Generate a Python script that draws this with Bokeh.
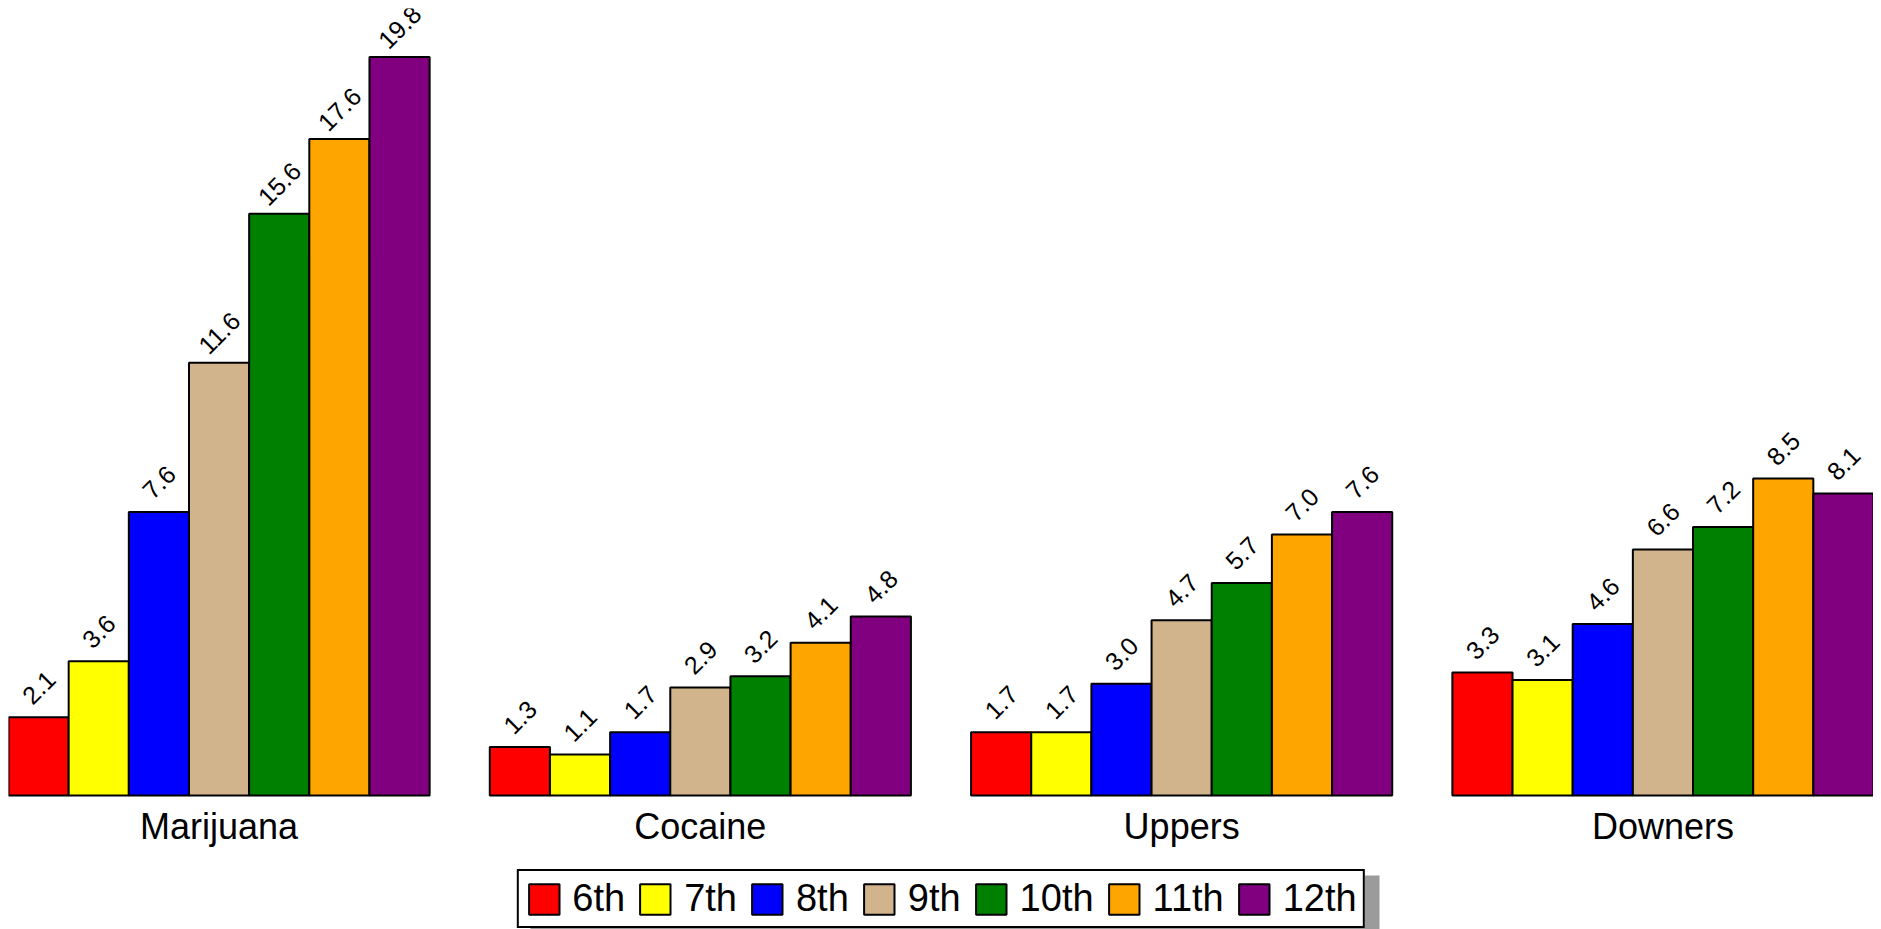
from bokeh.plotting import figure
from bokeh.models import (ColumnDataSource, FactorRange, Range1d, Legend, LegendItem,
                          CategoricalAxis, BoxAnnotation)
from bokeh.transform import dodge
from bokeh.core.properties import value
from bokeh.embed import file_html
from bokeh.resources import INLINE
import math

drugs = ["Marijuana", "Cocaine", "Uppers", "Downers"]
grades = ["6th", "7th", "8th", "9th", "10th", "11th", "12th"]
colors = ["#FF0000", "#FFFF00", "#0000FF", "#D2B48C", "#008000", "#FFA500", "#800080"]

g6 = [2.1, 1.3, 1.7, 3.3]
g7 = [3.6, 1.1, 1.7, 3.1]
g8 = [7.6, 1.7, 3.0, 4.6]
g9 = [11.6, 2.9, 4.7, 6.6]
g10 = [15.6, 3.2, 5.7, 7.2]
g11 = [17.6, 4.1, 7.0, 8.5]
g12 = [19.8, 4.8, 7.6, 8.1]
series = [g6, g7, g8, g9, g10, g11, g12]

FONT = "Liberation Sans"

data = {"drug": drugs}
for g, s in zip(grades, series):
    data[g] = s
    data[g + "_lbl"] = ["%.1f" % v for v in s]
source = ColumnDataSource(data)

n = len(grades)
bw = 1.0 / n
x_range = FactorRange(factors=drugs, factor_padding=bw, range_padding=0)

p = figure(width=1873, height=929, x_range=x_range, y_range=Range1d(-3.59, 21.1),
           output_backend="svg", toolbar_location=None,
           x_axis_location=None, y_axis_location=None,
           min_border_left=8, min_border_right=0, min_border_top=8, min_border_bottom=0)
p.outline_line_color = None
p.xgrid.visible = False
p.ygrid.visible = False

items = []
for i, (g, c) in enumerate(zip(grades, colors)):
    off = (i - (n - 1) / 2) * bw
    r = p.vbar(x=dodge("drug", off, range=x_range), top=g, width=bw, bottom=0,
               source=source, fill_color=c, line_color="black", line_width=2)
    p.text(x=dodge("drug", off, range=x_range), y=g, text=g + "_lbl", source=source,
           angle=math.pi / 4, y_offset=-30, text_align="center", text_baseline="middle",
           text_font=value(FONT), text_font_size="25px", text_color="black")
    items.append(LegendItem(label=g, renderers=[r]))

ax = CategoricalAxis(fixed_location=0)
ax.axis_line_color = None
ax.major_tick_line_color = None
ax.minor_tick_line_color = None
ax.major_tick_out = 0
ax.major_label_standoff = 10
ax.major_label_text_font = FONT
ax.major_label_text_font_size = "36px"
ax.major_label_text_color = "black"
p.add_layout(ax, "below")

shadow = BoxAnnotation(left=522, right=1371, top=54, bottom=-6,
                       left_units="screen", right_units="screen",
                       top_units="screen", bottom_units="screen",
                       fill_color="#8a8a8a", fill_alpha=0.85, line_color=None)
p.add_layout(shadow)

legend = Legend(items=items, orientation="horizontal", location="bottom_center",
                glyph_width=38, glyph_height=38, label_standoff=10, spacing=11,
                padding=6, margin=1, border_line_color="black", border_line_width=2,
                border_line_alpha=1, background_fill_color="white", background_fill_alpha=1,
                label_text_font=FONT, label_text_font_size="38px", label_text_color="black")
p.add_layout(legend, "center")

open("out.html", "w").write(file_html(p, INLINE))
